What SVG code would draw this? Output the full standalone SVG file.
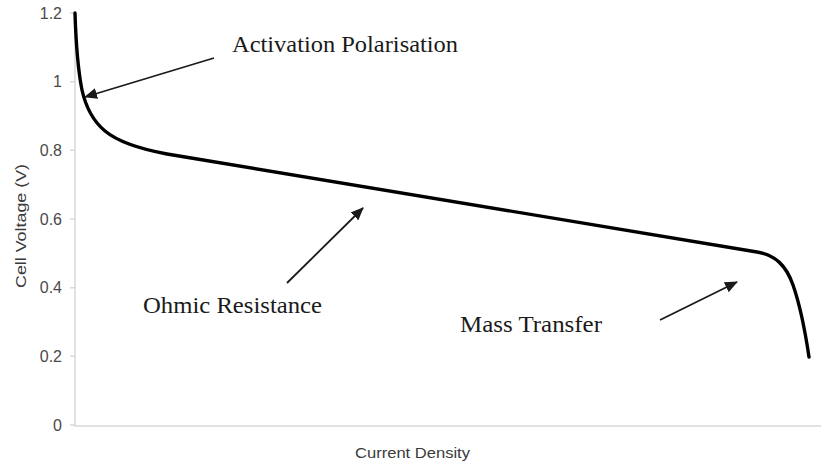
<svg xmlns="http://www.w3.org/2000/svg" width="821" height="465" viewBox="0 0 821 465">
<style>
.axis{stroke:#d9d9d9;stroke-width:1.5;fill:none}
.tick{font-family:"Liberation Sans",Arial,sans-serif;font-size:16px;fill:#4a4a4a;text-anchor:end}
.title{font-family:"Liberation Sans",Arial,sans-serif;font-size:15px;fill:#3a3a3a}
.lbl{font-family:"Liberation Serif","Times New Roman",serif;font-size:24px;fill:#1a1a1a}
.arrow{stroke:#1a1a1a;stroke-width:1.8;fill:none;marker-end:url(#ah)}
.curve{stroke:#000;stroke-width:3.4;fill:none;stroke-linejoin:round;stroke-linecap:round}
</style>
<defs>
<marker id="ah" viewBox="0 0 13 11" refX="12" refY="5.5" markerWidth="13" markerHeight="11" markerUnits="userSpaceOnUse" orient="auto">
<path d="M0,0 L13,5.5 L0,11 z" fill="#1a1a1a"/>
</marker>
</defs>
<rect width="821" height="465" fill="#fff"/>
<g id="axes">
<path class="axis" d="M75,13 V426 H821"/>
<path class="axis" d="M70,13 H75 M70,81.7 H75 M70,150.3 H75 M70,219 H75 M70,287.7 H75 M70,356.3 H75 M70,425 H75"/>
<text class="tick" x="62" y="19">1.2</text>
<text class="tick" x="62" y="87">1</text>
<text class="tick" x="62" y="156">0.8</text>
<text class="tick" x="62" y="225">0.6</text>
<text class="tick" x="62" y="293">0.4</text>
<text class="tick" x="62" y="362">0.2</text>
<text class="tick" x="62" y="431">0</text>
<text class="title" x="355" y="458" textLength="115" lengthAdjust="spacingAndGlyphs">Current Density</text>
<text class="title" transform="translate(26,288) rotate(-90)" x="0" y="0" textLength="124" lengthAdjust="spacingAndGlyphs">Cell Voltage (V)</text>
</g>
<g id="curve">
<path class="curve" d="M75,13 C76,45 78,70 82,90 C86,108 93,121 105,131 C117,141 135,148 167,154 L757,252 C775,255 786,265 793,285 C800,305 805,330 809,357"/>
</g>
<g id="connectors">
<line class="arrow" x1="214" y1="58" x2="85" y2="97"/>
<line class="arrow" x1="287" y1="283" x2="363" y2="208"/>
<line class="arrow" x1="660" y1="320" x2="737" y2="282"/>
</g>
<g id="label-activation">
<text class="lbl" x="232" y="52" textLength="226" lengthAdjust="spacingAndGlyphs">Activation Polarisation</text>
</g>
<g id="label-ohmic">
<text class="lbl" x="143" y="313" textLength="179" lengthAdjust="spacingAndGlyphs">Ohmic Resistance</text>
</g>
<g id="label-mass">
<text class="lbl" x="460" y="332" textLength="142" lengthAdjust="spacingAndGlyphs">Mass Transfer</text>
</g>
</svg>
